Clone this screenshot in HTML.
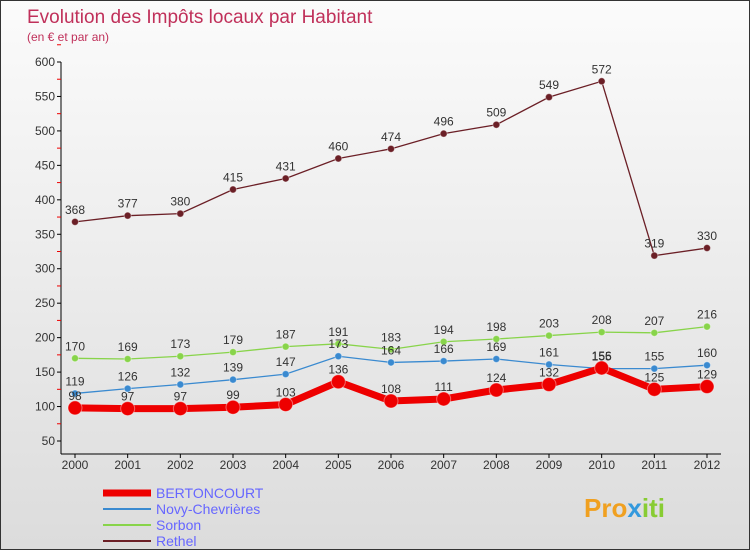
<!DOCTYPE html>
<html><head><meta charset="utf-8"><style>
body{margin:0;}
#c{width:750px;height:550px;position:relative;box-sizing:border-box;border:1px solid #333;background:linear-gradient(#fbfbfb,#dcdcdc);font-family:"Liberation Sans",sans-serif;overflow:hidden}
svg{position:absolute;left:0;top:0}
</style></head><body>
<div id="c">
<svg id="s" width="750" height="550">
<text x="26" y="22" font-size="19" fill="#c0305a">Evolution des Impôts locaux par Habitant</text>
<text x="26" y="40" font-size="12" fill="#c0305a">(en € et par an)</text>
<g font-size="15"><text x="583" y="516" font-size="26" font-weight="bold" fill="#f0a020">Pro<tspan fill="#3399dd">x</tspan><tspan fill="#88cc33">iti</tspan></text></g>
</svg>
</div>
<script>
const years=[2000,2001,2002,2003,2004,2005,2006,2007,2008,2009,2010,2011,2012];
const yTicks=[50,100,150,200,250,300,350,400,450,500,550,600];
const bertoncourt=[98,97,97,99,103,136,108,111,124,132,156,125,129];
const novy=[119,126,132,139,147,173,164,166,169,161,155,155,160];
const sorbon=[170,169,173,179,187,191,183,194,198,203,208,207,216];
const rethel=[368,377,380,415,431,460,474,496,509,549,572,319,330];
const NS="http://www.w3.org/2000/svg",svg=document.getElementById('s');
const xS=i=>74+i*(706-74)/(years.length-1);
const yS=v=>440-(v-50)*(440-61)/550;
function mk(t,a,p){const e=document.createElementNS(NS,t);for(const k in a)e.setAttribute(k,a[k]);(p||svg).appendChild(e);return e;}
const ax=mk('g',{});


mk('line',{x1:60,y1:61,x2:60,y2:453,stroke:'#000'},ax);
mk('line',{x1:60,y1:453,x2:720,y2:453,stroke:'#000'},ax);
yTicks.forEach(v=>{
 const y=yS(v);
 mk('line',{x1:56,x2:60,y1:y,y2:y,stroke:'#000'},ax);
 mk('line',{x1:56,x2:60,y1:yS(v+25),y2:yS(v+25),stroke:'#e00'},ax);
 const t=mk('text',{x:54,y:y+4,'text-anchor':'end','font-size':12,fill:'#333'},ax);t.textContent=v;
 
 
});
years.forEach((yr,i)=>{
 const x=xS(i);
 mk('line',{x1:x,x2:x,y1:453,y2:457,stroke:'#000'},ax);
 const t=mk('text',{x:x,y:468,'text-anchor':'middle','font-size':12,fill:'#333'},ax);t.textContent=yr;
 
 
});
const series=[
 {n:'rethel',d:rethel,c:'#6b1f26',w:1.3,r:3.5,lab:'Rethel'},
 {n:'sorbon',d:sorbon,c:'#88d44a',w:1.3,r:3.5,lab:'Sorbon'},
 {n:'novy',d:novy,c:'#3a8ad0',w:1.3,r:3.5,lab:'Novy-Chevrières'},
 {n:'bertoncourt',d:bertoncourt,c:'#ee0000',w:7,r:7,lab:'BERTONCOURT'}];
series.forEach(s=>{
 const g=mk('g',{});
 
 
 mk('polyline',{points:s.d.map((v,i)=>xS(i)+','+yS(v)).join(' '),fill:'none',stroke:s.c,'stroke-width':s.w},g);
 s.d.forEach((v,i)=>{
  const p=mk('circle',{cx:xS(i),cy:yS(v),r:s.r,fill:s.c,stroke:'#fff','stroke-opacity':0.4},g);
  
  
  const t=mk('text',{x:xS(i),y:yS(v)-8,'text-anchor':'middle','font-size':12,fill:'#333'},g);t.textContent=v;
  
  
 });
});
[series[3],series[2],series[1],series[0]].forEach((s,i)=>{
 const y=492+i*16;
 const g=mk('g',{});
 
 
 mk('line',{x1:102,x2:150,y1:y,y2:y,stroke:s.c,'stroke-width':s.n=='bertoncourt'?7:2},g);
 const t=mk('text',{x:155,y:y+5,'font-size':14,fill:'#6666ff'},g);t.textContent=s.lab;
});
</script>
</body></html>
